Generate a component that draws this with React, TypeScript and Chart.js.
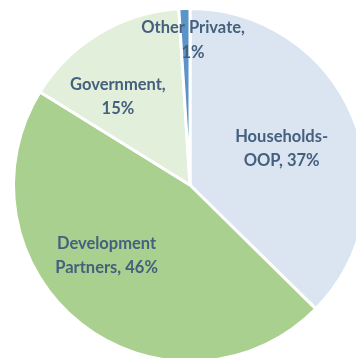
import React, { useEffect, useRef } from "react";
import { Chart, registerables } from "chart.js";

Chart.register(...registerables);

// Health financing sources, share of total (%)
const categories = ["Households-OOP", "Development Partners", "Government", "Other Private"];
const shares = [37, 46, 15, 1];

// How each label is broken into lines (the value is appended to the last line)
const labelLines = [
  ["Households-", "OOP,"],
  ["Development", "Partners,"],
  ["Government,", ""],
  ["Other Private,", ""],
];

const sliceColors = ["#DBE5F2", "#A9D08E", "#E2EFDA", "#5A94C9"];

// Label anchors: clockwise angle from 12 o'clock (deg) and fraction of the radius
const labelAnchors = [
  { angle: 68, r: 0.56 },
  { angle: 230, r: 0.617 },
  { angle: 321, r: 0.649 },
  { angle: 1.2, r: 0.823 },
];

const TEXT_COLOR = "#44607E";
const FONT = "bold 16.5px Lato";
const LINE_H = 24.5;
const CAP_H = 11.8;

const sliceLabels = {
  id: "sliceLabels",
  afterDatasetsDraw(chart: any) {
    const meta = chart.getDatasetMeta(0);
    const ctx = chart.ctx as CanvasRenderingContext2D;
    ctx.save();
    ctx.font = FONT;
    ctx.fillStyle = TEXT_COLOR;
    ctx.textAlign = "center";
    ctx.textBaseline = "alphabetic";
    meta.data.forEach((arc: any, i: number) => {
      const a = labelAnchors[i];
      const rad = (a.angle * Math.PI) / 180;
      const cx = arc.x + Math.sin(rad) * arc.outerRadius * a.r;
      const cy = arc.y - Math.cos(rad) * arc.outerRadius * a.r;
      const parts = labelLines[i];
      const value = `${shares[i]}%`;
      const lines =
        parts[1] === "" ? [parts[0], value] : [parts[0], `${parts[1]} ${value}`];
      const n = lines.length;
      lines.forEach((t, k) => {
        const y = cy + (k - (n - 1) / 2) * LINE_H + CAP_H / 2;
        ctx.fillText(t, cx, y);
      });
    });
    ctx.restore();
  },
};

export default function App() {
  const ref = useRef<HTMLCanvasElement | null>(null);

  useEffect(() => {
    if (!ref.current) return;
    const chart = new Chart(ref.current, {
      type: "pie",
      data: {
        labels: categories,
        datasets: [
          {
            data: shares,
            backgroundColor: sliceColors,
            borderColor: "#FFFFFF",
            borderWidth: 3,
            hoverOffset: 0,
          },
        ],
      },
      options: {
        responsive: false,
        animation: false,
        radius: 176.5,
        layout: { padding: 0 },
        plugins: {
          legend: { display: false },
          tooltip: { enabled: false },
        },
      },
      plugins: [sliceLabels],
    });
    return () => chart.destroy();
  }, []);

  return (
    <div
      style={{
        position: "fixed",
        left: 0,
        top: 0,
        width: 356,
        height: 358,
        overflow: "hidden",
        background: "#FFFFFF",
      }}
    >
      <canvas
        ref={ref}
        width={380}
        height={370}
        style={{ position: "absolute", left: 0, top: 0, width: 380, height: 370 }}
      />
    </div>
  );
}
